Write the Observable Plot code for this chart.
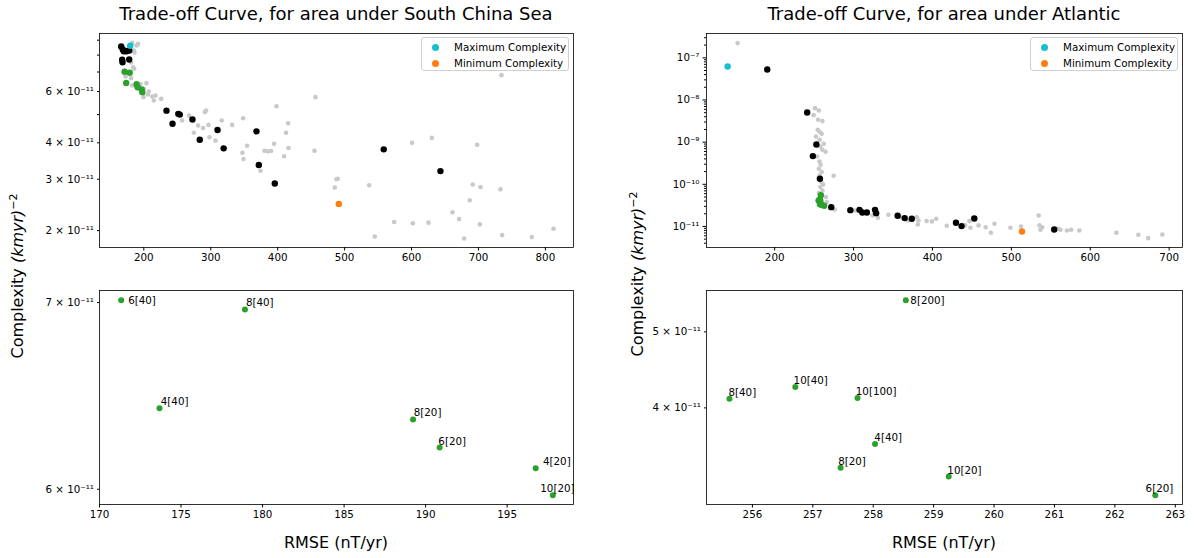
<!DOCTYPE html>
<html>
<head>
<meta charset="utf-8">
<script src="https://cdn.jsdelivr.net/npm/d3@7"></script>
<script src="https://cdn.jsdelivr.net/npm/@observablehq/plot@0.6"></script>
<style>
  body { margin: 0; background: #fff; font-family: "DejaVu Sans", sans-serif; }
  #root { position: relative; width: 1197px; height: 558px; overflow: hidden; background: #fff; }
  .title { position: absolute; font-size: 18px; line-height: 21px; white-space: nowrap; transform: translateX(-50%); color: #000; }
  .xlabel { position: absolute; font-size: 16px; line-height: 20px; white-space: nowrap; transform: translate(-50%, -50%); color: #000; }
  .ylabel { position: absolute; font-size: 16px; line-height: 20px; white-space: nowrap; transform: translate(-50%, -50%) rotate(-90deg); color: #000; }
  .ylabel sup { font-size: 11px; vertical-align: 6px; line-height: 0; }
  .legend { position: absolute; border: 1px solid #d0d0d0; border-radius: 3px; background: rgba(255,255,255,0.85); font-size: 10.3px; color: #000; box-sizing: border-box; }
  .legend .row { position: absolute; left: 0; white-space: nowrap; line-height: 12px; }
  .legend .sw { position: absolute; width: 7px; height: 7px; border-radius: 50%; }
</style>
</head>
<body>
<div id="root"></div>
<script>
// ---------------- South China Sea (top-left: all models) ----------------
const scsGreyRmse = [182.6,191.5,189.0,185.1,186.1,181.1,184.1,185.6,172.6,181.1,182.6,187.5,195.0,204.0,200.0,207.5,206.0,212.5,217.4,214.9,225.9,199.5,
  267.7,291.1,293.1,257.3,281.2,296.6,288.6,316.5,332.0,348.4,274.7,298.1,307.1,312.1,354.4,347.4,348.9,380.3,385.3,390.2,394.7,409.7,415.6,412.6,416.1,398.2,455.0,456.5,374.3,
  734.4,487.8,489.8,485.4,536.7,545.1,574.0,600.9,601.9,625.3,630.3,661.2,671.1,678.6,687.1,691.5,698.0,702.0,703.0,732.9,735.4,779.7,812.1];
const scsGreyComplexity = [8.81e-11,8.74e-11,8.63e-11,8.30e-11,8.17e-11,7.55e-11,7.27e-11,7.18e-11,6.76e-11,6.67e-11,6.29e-11,6.29e-11,6.37e-11,6.41e-11,6.13e-11,6.0e-11,5.86e-11,5.77e-11,5.81e-11,5.59e-11,5.66e-11,5.74e-11,
  4.96e-11,5.10e-11,5.16e-11,4.77e-11,4.59e-11,4.61e-11,4.50e-11,4.77e-11,4.61e-11,4.86e-11,4.33e-11,4.18e-11,4.07e-11,4.41e-11,3.91e-11,3.70e-11,3.52e-11,3.76e-11,3.74e-11,3.75e-11,3.97e-11,3.60e-11,4.67e-11,4.33e-11,3.84e-11,5.34e-11,3.76e-11,5.74e-11,3.21e-11,
  6.83e-11,3.00e-11,3.01e-11,2.81e-11,2.86e-11,1.91e-11,2.14e-11,4.00e-11,2.12e-11,2.13e-11,4.16e-11,2.31e-11,2.19e-11,1.88e-11,2.54e-11,2.88e-11,3.94e-11,2.10e-11,2.82e-11,2.77e-11,1.93e-11,1.90e-11,2.03e-11];
const scsFrontRmse = [166.2,168.6,170.1,174.2,178.2,167.7,168.2,178.2,233.9,251.5,253.8,242.9,272.7,310.1,283.6,368.3,319.3,371.8,395.7,558.5,643.2];
const scsFrontComplexity = [8.56e-11,8.36e-11,8.25e-11,8.25e-11,8.30e-11,7.71e-11,7.56e-11,7.73e-11,5.16e-11,5.03e-11,5.00e-11,4.65e-11,4.81e-11,4.43e-11,4.10e-11,4.38e-11,3.83e-11,3.36e-11,2.90e-11,3.80e-11,3.20e-11];
const scsBestLabels = ["6[40]","8[40]","4[40]","8[20]","6[20]","4[20]","10[20]"];
const scsBestRmse = [171.33,178.92,173.68,189.23,190.86,196.75,197.8];
const scsBestComplexity = [7.013e-11,6.96e-11,6.415e-11,6.356e-11,6.21e-11,6.105e-11,5.97e-11];
const scsMaxRmse = [179.7], scsMaxComplexity = [8.61e-11];
const scsMinRmse = [491.3], scsMinComplexity = [2.47e-11];

// ---------------- Atlantic (top-right: all models) ----------------
const atlGreyRmse = [153.0,251.1,256.0,249.3,255.1,260.5,254.6,256.9,259.6,252.4,256.9,262.3,257.8,260.5,264.5,253.7,256.9,258.2,256.0,259.6,256.9,274.8,259.1,261.4,257.8,260.5,256.0,265.0,265.9,276.1,
  301.7,315.1,324.1,330.8,344.2,359.9,368.9,380.1,382.3,381.4,392.6,399.3,404.7,418.1,441.4,448.1,446.8,458.4,467.4,474.1,478.6,498.8,512.2,534.6,535.6,536.9,539.1,559.2,562.4,570.4,575.8,586.1,633.1,660.9,673.4,691.3];
const atlGreyComplexity = [2.23e-7,6.40e-9,5.63e-9,4.37e-9,3.39e-9,3.15e-9,1.96e-9,1.76e-9,1.58e-9,1.36e-9,1.13e-9,9.12e-10,7.88e-10,6.58e-10,5.90e-10,4.57e-10,3.48e-10,2.90e-10,2.33e-10,1.95e-10,1.62e-10,1.59e-10,1.13e-10,9.9e-11,8.57e-11,7.14e-11,6.18e-11,4.97e-11,3.78e-11,2.53e-11,
  2.40e-11,2.07e-11,1.82e-11,1.61e-11,1.89e-11,1.66e-11,1.39e-11,1.66e-11,1.39e-11,1.11e-11,1.34e-11,1.32e-11,1.52e-11,1.04e-11,1.06e-11,9.3e-12,1.34e-11,1.06e-11,9.6e-12,7.07e-12,1.16e-11,9.3e-12,1.0e-11,1.82e-11,1.06e-11,8.34e-12,9.6e-12,8.8e-12,8.34e-12,8.04e-12,8.34e-12,8.04e-12,7.07e-12,6.34e-12,5.28e-12,6.45e-12];
const atlFrontRmse = [190.6,241.2,252.9,248.4,257.3,271.7,295.9,307.5,311.1,316.9,327.2,328.6,355.9,364.8,373.8,429.8,436.9,453.0,554.3];
const atlFrontComplexity = [5.29e-8,5.05e-9,8.81e-10,4.66e-10,1.35e-10,2.87e-11,2.44e-11,2.48e-11,2.15e-11,2.15e-11,2.48e-11,2.07e-11,1.79e-11,1.58e-11,1.52e-11,1.22e-11,1.02e-11,1.55e-11,8.49e-12];
const atlBestLabels = ["8[200]","8[40]","10[40]","10[100]","4[40]","8[20]","10[20]","6[20]"];
const atlBestRmse = [258.54,255.62,256.71,257.74,258.03,257.46,259.25,262.67];
const atlBestComplexity = [5.487e-11,4.11e-11,4.254e-11,4.119e-11,3.598e-11,3.354e-11,3.27e-11,3.095e-11];
const atlMaxRmse = [140.4], atlMaxComplexity = [6.23e-8];
const atlMinRmse = [513.5], atlMinComplexity = [7.61e-12];

// ---------------- ticks & text ----------------
const titles = ["Trade-off Curve, for area under South China Sea", "Trade-off Curve, for area under Atlantic"];
const xAxisLabel = "RMSE (nT/yr)";
const legendLabels = ["Maximum Complexity", "Minimum Complexity"];
const scsTopXTicks = [200,300,400,500,600,700,800];
const atlTopXTicks = [200,300,400,500,600,700];
const scsBottomXTicks = [170,175,180,185,190,195];
const atlBottomXTicks = [256,257,258,259,260,261,262,263];
const scsTopYLabeled = [2e-11,3e-11,4e-11,6e-11];
const scsTopYMinor = [5e-11,7e-11,8e-11,9e-11];
const atlTopYMajor = [1e-11,1e-10,1e-9,1e-8,1e-7];
const scsBottomYLabeled = [6e-11,7e-11];
const atlBottomYLabeled = [4e-11,5e-11];

// label placement (layout only, in pixels): side labels sit to the right of the dot
const sideLabels = new Set(["6[40]","8[200]"]);
const scsLabelDx = {"8[40]": 1, "4[40]": 1.3, "8[20]": 0.7, "6[20]": -1.3, "4[20]": 7.3, "10[20]": -12.5, "6[40]": 7};
const atlLabelDx = {"8[40]": -1, "10[40]": -1.7, "10[100]": -1.7, "4[40]": -0.7, "8[20]": -2.4, "10[20]": -1.4, "6[20]": -9.7, "8[200]": 4.5};

const COLORS = {grey: "#c9c9c9", front: "#000000", best: "#2ca02c", max: "#17becf", min: "#ff7f0e"};

const zip = (xs, ys, labels) => xs.map((x, i) => ({x, y: ys[i], label: labels ? labels[i] : null}));

const supMap = {"0":"⁰","1":"¹","2":"²","3":"³","4":"⁴","5":"⁵","6":"⁶","7":"⁷","8":"⁸","9":"⁹","-":"⁻"};
function sci(v) {
  const e = Math.floor(Math.log10(v) + 1e-9);
  const m = Math.round(v / Math.pow(10, e));
  const ex = String(e).split("").map(c => supMap[c]).join("");
  return m === 1 ? `10${ex}` : `${m} × 10${ex}`;
}

function minorTicks(lo, hi) {
  const out = [];
  for (let e = Math.floor(Math.log10(lo)); e <= Math.ceil(Math.log10(hi)); e++)
    for (let m = 2; m <= 9; m++) { const v = m * Math.pow(10, e); if (v >= lo && v <= hi) out.push(v); }
  return out;
}

const root = document.getElementById("root");
const blank = () => "";

function yLabelsMark(ticks, tickSize) {
  return Plot.text(ticks, {y: d => d, frameAnchor: "left", text: d => sci(d), textAnchor: "end", lineAnchor: "middle", dx: -(tickSize + 3.5), fontSize: 10.3, fill: "#000"});
}

function addPanel(cfg) {
  const marks = [
    Plot.frame({stroke: "#000", strokeWidth: 0.8}),
    Plot.axisX(cfg.xTicks, {tickSize: 3.5, tickPadding: 3, tickFormat: d => String(d), label: null}),
  ];
  if (cfg.yMajor) {
    marks.push(Plot.axisY(cfg.yMajor, {tickSize: 3.5, tickFormat: blank, label: null}));
    marks.push(yLabelsMark(cfg.yMajor, 3.5));
  }
  if (cfg.yLabeled) {
    marks.push(Plot.axisY(cfg.yLabeled, {tickSize: 2, tickFormat: blank, label: null}));
    marks.push(yLabelsMark(cfg.yLabeled, 2));
  }
  if (cfg.yMinor && cfg.yMinor.length) marks.push(Plot.axisY(cfg.yMinor, {tickSize: 2, tickFormat: blank, label: null}));
  marks.push(...cfg.marks);
  const svg = Plot.plot({
    width: cfg.width, height: cfg.height,
    marginLeft: cfg.ml, marginRight: cfg.mr, marginTop: cfg.mt, marginBottom: cfg.mb,
    style: {fontFamily: "'DejaVu Sans', sans-serif", fontSize: "10.3px", color: "#000", background: "transparent", overflow: "visible"},
    x: {domain: cfg.xDomain},
    y: {type: "log", domain: cfg.yDomain},
    marks
  });
  svg.style.position = "absolute";
  svg.style.left = cfg.left + "px";
  svg.style.top = cfg.top + "px";
  root.appendChild(svg);
}

function dots(data, fill, r) {
  return Plot.dot(data, {x: "x", y: "y", r, fill, stroke: "none"});
}
function bestLabels(data, dxMap) {
  const marks = [];
  for (const d of data) {
    const side = sideLabels.has(d.label);
    marks.push(Plot.text([d], {
      x: "x", y: "y", text: "label", textAnchor: "start",
      lineAnchor: side ? "middle" : "bottom",
      dx: dxMap[d.label] ?? 0, dy: side ? 0 : -3,
      fontSize: 10.3, fill: "#000"
    }));
  }
  return marks;
}

const scsBest = zip(scsBestRmse, scsBestComplexity, scsBestLabels);
const atlBest = zip(atlBestRmse, atlBestComplexity, atlBestLabels);

// Panel 1
addPanel({
  left: 0, top: 0, width: 600, height: 275, ml: 99, mr: 27, mt: 33, mb: 28,
  xDomain: [133.8, 842], yDomain: [1.75e-11, 9.49e-11], xTicks: scsTopXTicks,
  yLabeled: scsTopYLabeled, yMinor: scsTopYMinor,
  marks: [
    dots(zip(scsGreyRmse, scsGreyComplexity), COLORS.grey, 2.3),
    dots(zip(scsFrontRmse, scsFrontComplexity), COLORS.front, 3.2),
    dots(scsBest, COLORS.best, 3.2),
    dots(zip(scsMaxRmse, scsMaxComplexity), COLORS.max, 3.2),
    dots(zip(scsMinRmse, scsMinComplexity), COLORS.min, 3.2)
  ]
});

// Panel 2
const p2Y = [3.17e-12, 3.77e-7];
addPanel({
  left: 600, top: 0, width: 597, height: 275, ml: 106, mr: 15, mt: 33, mb: 28,
  xDomain: [113.6, 716.9], yDomain: p2Y, xTicks: atlTopXTicks,
  yMajor: atlTopYMajor, yMinor: minorTicks(p2Y[0], p2Y[1]),
  marks: [
    dots(zip(atlGreyRmse, atlGreyComplexity), COLORS.grey, 2.3),
    dots(zip(atlFrontRmse, atlFrontComplexity), COLORS.front, 3.2),
    dots(atlBest, COLORS.best, 3.2),
    dots(zip(atlMaxRmse, atlMaxComplexity), COLORS.max, 3.2),
    dots(zip(atlMinRmse, atlMinComplexity), COLORS.min, 3.2)
  ]
});

// Panel 3
addPanel({
  left: 0, top: 275, width: 600, height: 283, ml: 99, mr: 27, mt: 15, mb: 54,
  xDomain: [170.0, 199.07], yDomain: [5.925e-11, 7.07e-11], xTicks: scsBottomXTicks,
  yLabeled: scsBottomYLabeled, yMinor: [],
  marks: [dots(scsBest, COLORS.best, 3), ...bestLabels(scsBest, scsLabelDx)]
});

// Panel 4
addPanel({
  left: 600, top: 275, width: 597, height: 283, ml: 106, mr: 15, mt: 15, mb: 54,
  xDomain: [255.24, 263.12], yDomain: [3.012e-11, 5.646e-11], xTicks: atlBottomXTicks,
  yLabeled: atlBottomYLabeled, yMinor: [],
  marks: [dots(atlBest, COLORS.best, 3), ...bestLabels(atlBest, atlLabelDx)]
});

function addDiv(cls, html, left, top) {
  const d = document.createElement("div");
  d.className = cls; d.innerHTML = html;
  d.style.left = left + "px"; d.style.top = top + "px";
  root.appendChild(d);
  return d;
}
addDiv("title", titles[0], 336, 3);
addDiv("title", titles[1], 944, 3);
addDiv("xlabel", xAxisLabel, 336, 543);
addDiv("xlabel", xAxisLabel, 944, 543);
const yLabelHtml = "Complexity <i>(kmyr)</i><sup>−2</sup>";
addDiv("ylabel", yLabelHtml, 18, 276);
addDiv("ylabel", yLabelHtml, 638, 274);

function addLegend(left, top) {
  const box = document.createElement("div");
  box.className = "legend";
  box.style.left = left + "px"; box.style.top = top + "px";
  box.style.width = "148px"; box.style.height = "34px";
  const cols = [COLORS.max, COLORS.min];
  legendLabels.forEach((t, i) => {
    const row = document.createElement("div");
    row.className = "row";
    row.style.top = (3 + i * 16) + "px";
    row.style.width = "100%"; row.style.height = "12px";
    const sw = document.createElement("span");
    sw.className = "sw"; sw.style.background = cols[i];
    sw.style.left = "10px"; sw.style.top = "2.5px";
    const tx = document.createElement("span");
    tx.textContent = t; tx.style.position = "absolute"; tx.style.left = "32px"; tx.style.top = "0px";
    row.appendChild(sw); row.appendChild(tx);
    box.appendChild(row);
  });
  root.appendChild(box);
}
addLegend(421, 37);
addLegend(1030, 37);
</script>
</body>
</html>
